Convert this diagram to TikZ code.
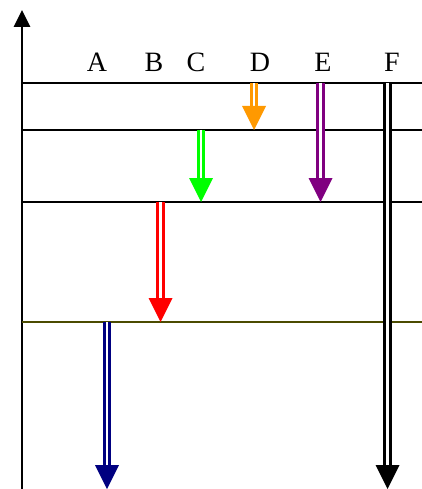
\documentclass[tikz,border=0pt]{standalone}
\usepackage{fontspec}
\setmainfont{Liberation Serif}
\usetikzlibrary{arrows.meta}
\definecolor{lvorange}{RGB}{255,153,0}
\definecolor{lvpurple}{RGB}{128,0,128}
\definecolor{lvgreen}{RGB}{0,255,0}
\definecolor{lvred}{RGB}{255,0,0}
\definecolor{lvnavy}{RGB}{0,0,128}
\definecolor{lvolive}{RGB}{75,75,0}
\begin{document}
\begin{tikzpicture}[x=1pt,y=-1pt,
  level/.style={line width=2.2pt},
  lvlabel/.style={font=\fontsize{28}{32}\selectfont, anchor=base, inner sep=0pt},
  shaft/.style={double=white, double distance=2.6pt, line width=2.8pt, shorten >=22pt},
]
\useasboundingbox (0,0) rectangle (422,489);

% energy axis
\draw[line width=2.8pt, -{Triangle[width=16pt,length=17pt]}] (22,489) -- (22,10);

% level lines
\coordinate (L1a) at (22,83);  \coordinate (L1b) at (422,83);
\coordinate (L2a) at (22,130); \coordinate (L2b) at (422,130);
\coordinate (L3a) at (22,202); \coordinate (L3b) at (422,202);
\coordinate (L4a) at (22,322); \coordinate (L4b) at (422,322);
\draw[level] (L1a) -- (L1b);
\draw[level] (L2a) -- (L2b);
\draw[level] (L3a) -- (L3b);
\draw[level, lvolive] (L4a) -- (L4b);

% transition labels
\node[lvlabel] (A) at (97,71.5) {A};
\node[lvlabel] (B) at (154,71.5) {B};
\node[lvlabel] (C) at (196,71.5) {C};
\node[lvlabel] (D) at (260,71.5) {D};
\node[lvlabel] (E) at (323,71.5) {E};
\node[lvlabel] (F) at (392,71.5) {F};

% transitions: double shaft plus a filled triangular head
\newcommand\transition[4]{%
  \coordinate (s#4) at (#1,#2);
  \coordinate (t#4) at (#1,#3);
  \draw[shaft, #4col] (s#4) -- (t#4);
  \fill[#4col] (t#4) -- ++(-12,-24) -- ++(24,0) -- cycle;
}
\colorlet{Acol}{lvnavy}
\colorlet{Bcol}{lvred}
\colorlet{Ccol}{lvgreen}
\colorlet{Dcol}{lvorange}
\colorlet{Ecol}{lvpurple}
\colorlet{Fcol}{black}
\transition{107}{322}{489}{A}
\transition{160.5}{202}{322}{B}
\transition{201}{130}{202}{C}
\transition{254}{83}{130}{D}
\transition{320.5}{83}{202}{E}
\transition{387.5}{83}{489}{F}
\end{tikzpicture}
\end{document}
